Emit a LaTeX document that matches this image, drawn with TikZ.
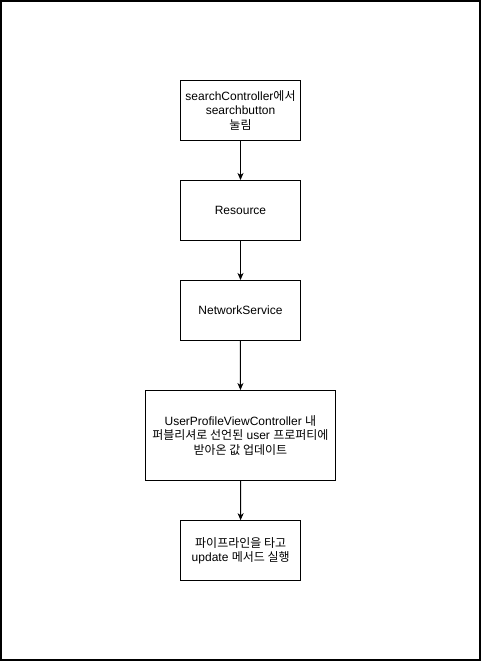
\documentclass[tikz,border=0pt]{standalone}
\usepackage{fontspec}
\setmainfont{Liberation Sans}
\newfontfamily\krfont{Noto Sans CJK KR}
\newcommand{\kr}[1]{{\krfont #1}}
\usetikzlibrary{arrows.meta}
\begin{document}
\begin{tikzpicture}[x=1pt,y=-1pt,
  box/.style={draw=black,line width=1pt,fill=white,align=center,inner sep=0pt,font=\fontsize{12}{14.5}\selectfont},
  conn/.style={draw=black,line width=1pt,-{Stealth[length=7pt,width=6pt,inset=2pt]}}]
\useasboundingbox (0,0) rectangle (481,661);
\draw[line width=1.6pt] (0.8,0.8) rectangle (480.2,660.2);
\node[box,minimum width=120pt,minimum height=60pt] (n1) at (240.5,110.3) {searchController\kr{에서}\\searchbutton\\\kr{눌림}};
\node[box,minimum width=120pt,minimum height=60pt] (n2) at (240.5,210.5) {Resource};
\node[box,minimum width=120pt,minimum height=60pt] (n3) at (240.5,310.5) {NetworkService};
\node[box,minimum width=189.5pt,minimum height=89.5pt] (n4) at (240.4,435.3) {UserProfileViewController \kr{내}\\\kr{퍼블리셔로 선언된} user \kr{프로퍼티에}\\\kr{받아온 값 업데이트}};
\node[box,minimum width=120pt,minimum height=60pt] (n5) at (240.7,550.7) {\kr{파이프라인을 타고}\\update \kr{메서드 실행}};
\draw[conn] (n1) -- (n2);
\draw[conn] (n2) -- (n3);
\draw[conn] (n3) -- (n4);
\draw[conn] (n4) -- (n5);
\end{tikzpicture}
\end{document}
